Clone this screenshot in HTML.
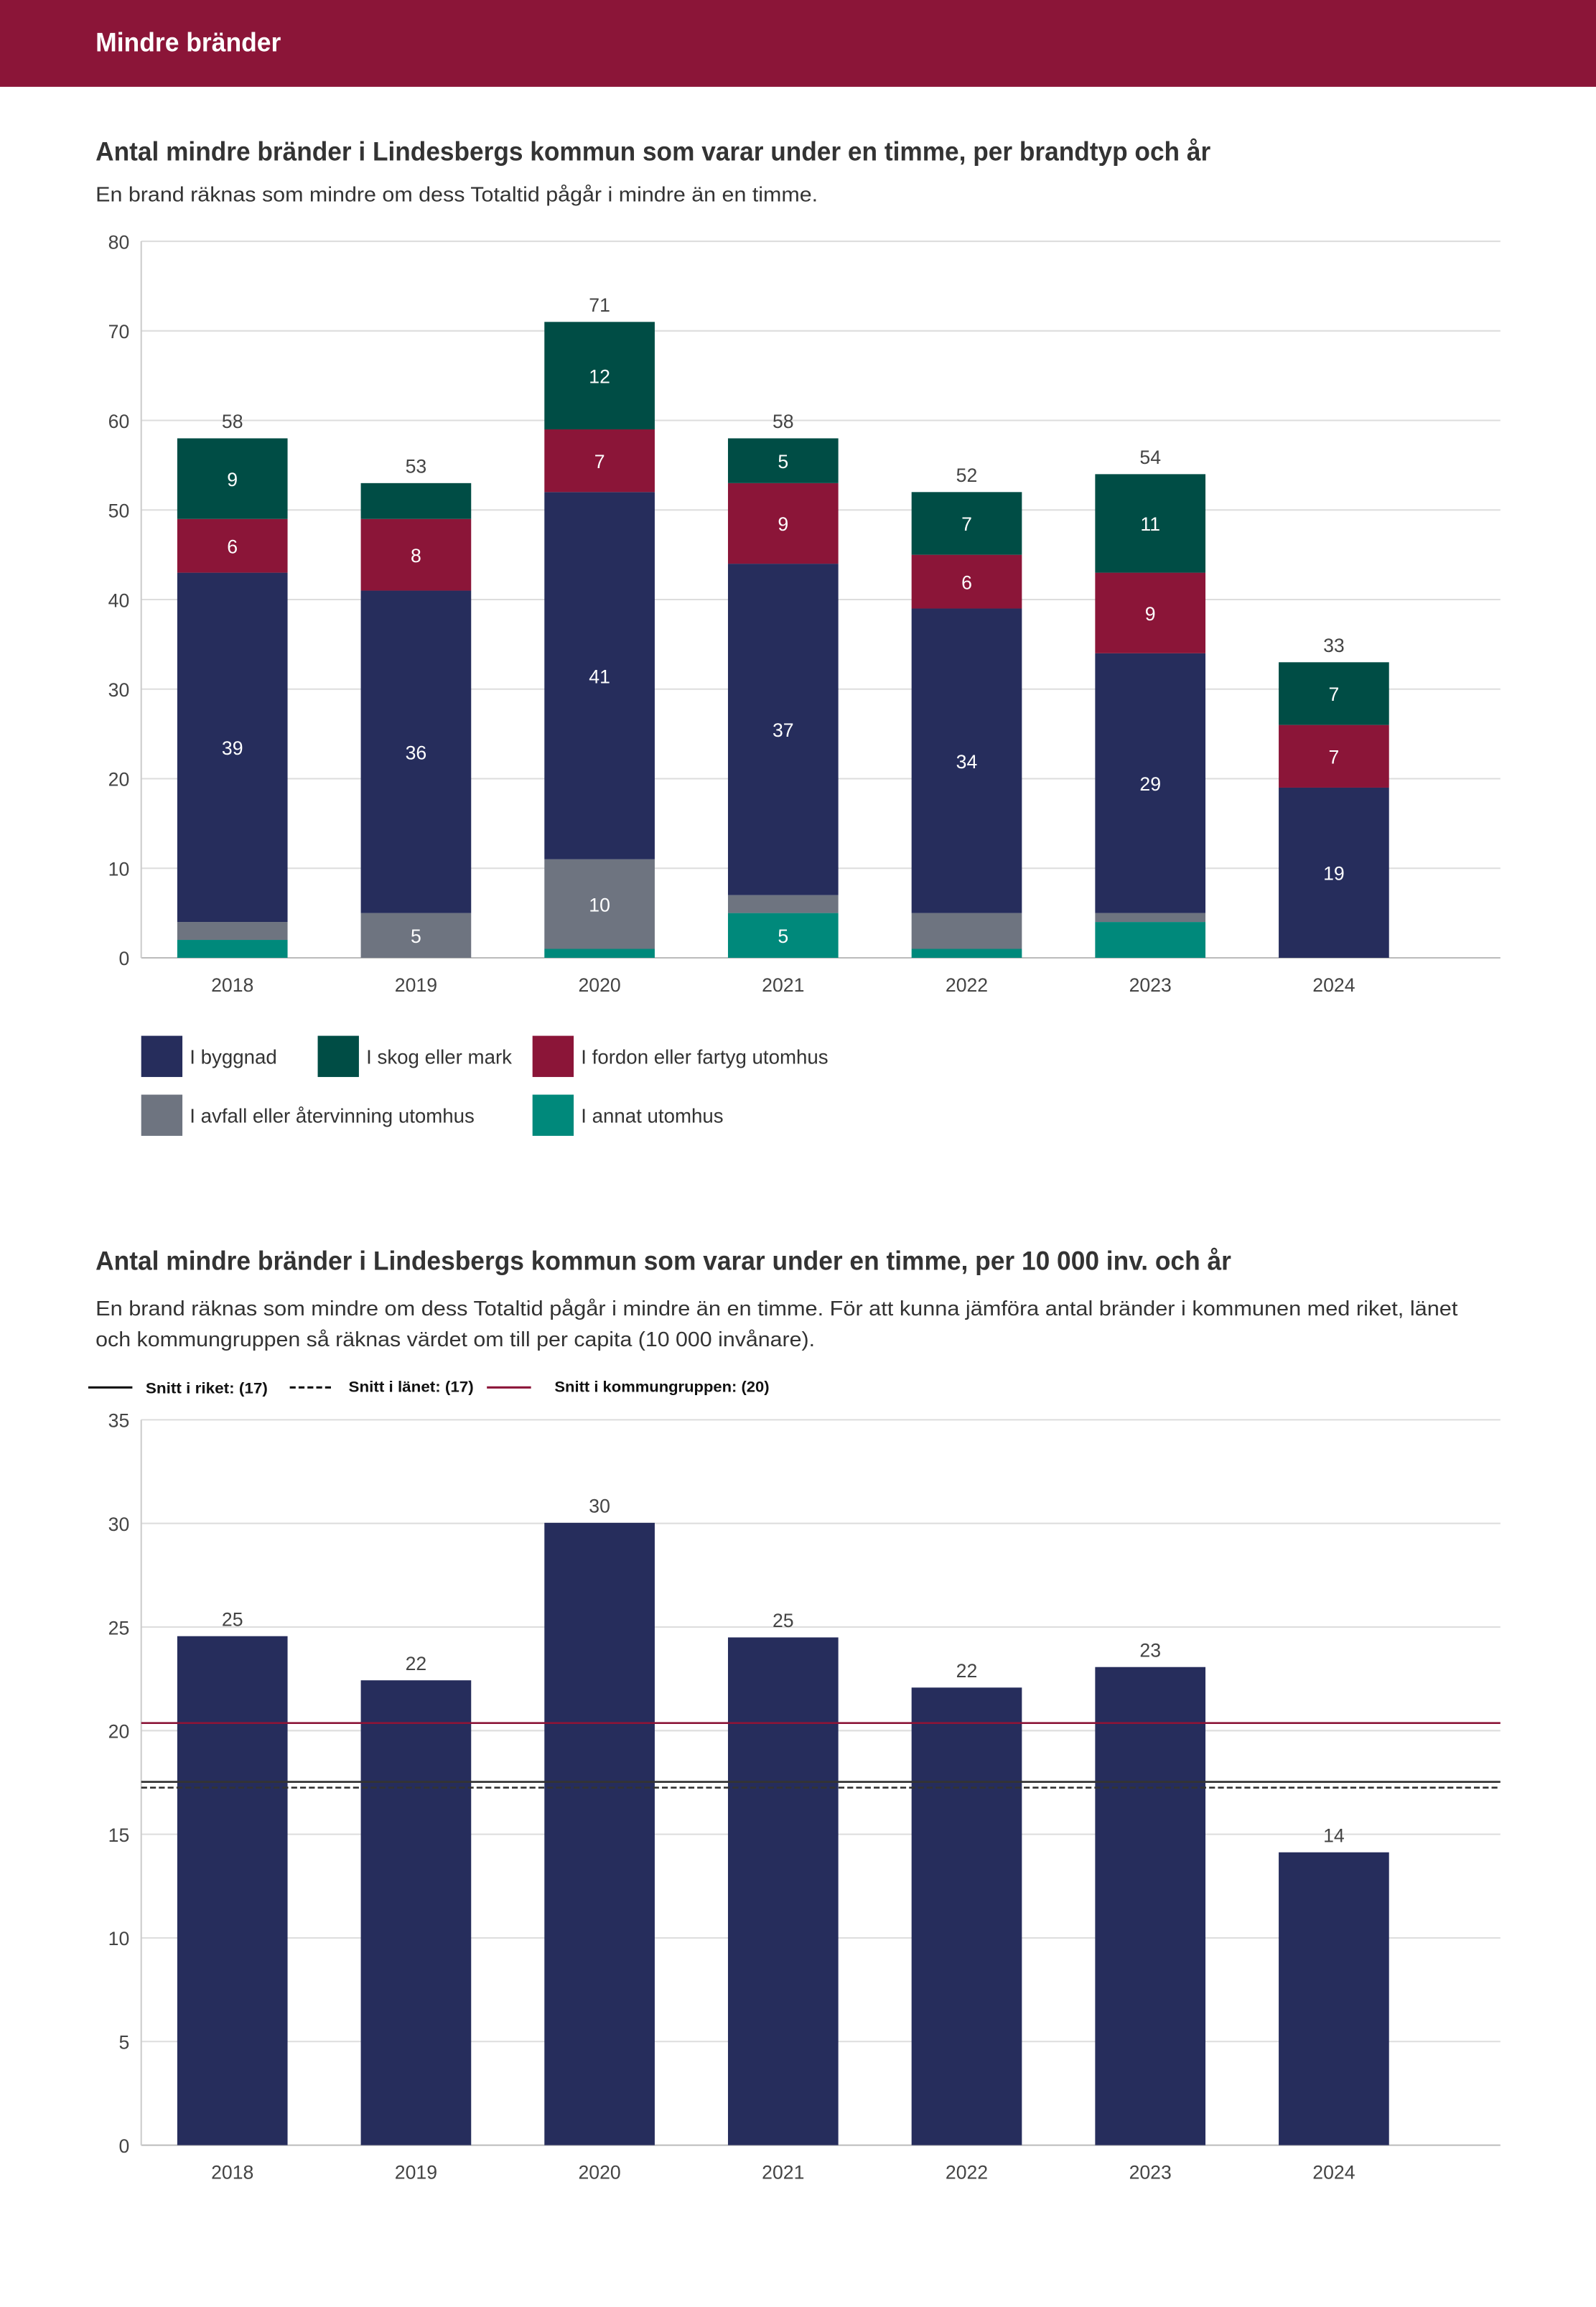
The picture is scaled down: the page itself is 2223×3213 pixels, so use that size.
<!DOCTYPE html>
<html><head><meta charset="utf-8"><style>
html,body{margin:0;padding:0;background:#fff;}
svg{display:block;font-family:"Liberation Sans",sans-serif;}
</style></head><body>
<svg id="root" width="2223" height="3213" viewBox="0 0 1085 1568" preserveAspectRatio="none" xmlns="http://www.w3.org/2000/svg">
<rect x="0" y="0" width="1085" height="59" fill="#8b1538"/>
<text x="65" y="35" fill="#fff" font-size="18" font-weight="bold" textLength="126" lengthAdjust="spacingAndGlyphs">Mindre bränder</text>

<text x="65" y="109" fill="#333" font-size="18" font-weight="bold" textLength="758" lengthAdjust="spacingAndGlyphs">Antal mindre bränder i Lindesbergs kommun som varar under en timme, per brandtyp och år</text>
<text x="65" y="137" fill="#333" font-size="14" textLength="491" lengthAdjust="spacingAndGlyphs">En brand räknas som mindre om dess Totaltid pågår i mindre än en timme.</text>
<g id="c1"></g>
<g id="leg1"></g>

<text x="65" y="863" fill="#333" font-size="18" font-weight="bold" textLength="772" lengthAdjust="spacingAndGlyphs">Antal mindre bränder i Lindesbergs kommun som varar under en timme, per 10 000 inv. och år</text>
<text x="65" y="894" fill="#333" font-size="14" textLength="926" lengthAdjust="spacingAndGlyphs">En brand räknas som mindre om dess Totaltid pågår i mindre än en timme. För att kunna jämföra antal bränder i kommunen med riket, länet</text>
<text x="65" y="915" fill="#333" font-size="14" textLength="489" lengthAdjust="spacingAndGlyphs">och kommungruppen så räknas värdet om till per capita (10 000 invånare).</text>
<g>
<line x1="60" y1="943" x2="90" y2="943" stroke="#111" stroke-width="1.5"/>
<text x="99" y="947" font-size="10.5" font-weight="bold" fill="#111" textLength="83" lengthAdjust="spacingAndGlyphs">Snitt i riket: (17)</text>
<line x1="197" y1="943" x2="227" y2="943" stroke="#111" stroke-width="1.5" stroke-dasharray="4,2"/>
<text x="237" y="946" font-size="10.5" font-weight="bold" fill="#111" textLength="85" lengthAdjust="spacingAndGlyphs">Snitt i länet: (17)</text>
<line x1="331" y1="943" x2="361" y2="943" stroke="#8b1538" stroke-width="1.5"/>
<text x="377" y="946" font-size="10.5" font-weight="bold" fill="#111" textLength="146" lengthAdjust="spacingAndGlyphs">Snitt i kommungruppen: (20)</text>
</g>
<g id="c2"></g>
</svg>
<script>
const years = ["2018","2019","2020","2021","2022","2023","2024"];
const annat = [2,0,1,5,1,4,0];
const avfall = [2,5,10,2,4,1,0];
const byggnad = [39,36,41,37,34,29,19];
const fordon = [6,8,7,9,6,9,7];
const skog = [9,4,12,5,7,11,7];
const c1Ticks = [0,10,20,30,40,50,60,70,80];
const perCapita = [24.56,22.43,30.03,24.5,22.08,23.07,14.13];
const perCapitaLabels = ["25","22","30","25","22","23","14"];
const c2Ticks = [0,5,10,15,20,25,30,35];
const snittRiket = 17.53;
const snittLanet = 17.25;
const snittKommungrupp = 20.37;

const NS="http://www.w3.org/2000/svg";
function mk(parent,tag,attrs,text){const e=document.createElementNS(NS,tag);for(const k in attrs)e.setAttribute(k,attrs[k]);if(text!==undefined)e.textContent=text;parent.appendChild(e);return e;}
const X0=96,X1=1020,BW=75;
function xc(i){return 158+i*124.8;}

// Chart 1
const c1=document.getElementById('c1');
const y1=v=>651-v*(487/80);
c1Ticks.forEach(t=>{
  const l=mk(c1,'line',{x1:X0,x2:X1,y1:y1(t),y2:y1(t),stroke:t===0?'#bbb':'#ddd','stroke-width':1});
  
  
  const tx=mk(c1,'text',{x:88,y:y1(t)+5,'text-anchor':'end','font-size':13,fill:'#444'},String(t));
  
  
});
const ax=mk(c1,'line',{x1:X0,x2:X0,y1:164,y2:651,stroke:'#ccc'});


const series=[["annat",annat,"#00897b"],["avfall",avfall,"#6e7480"],["byggnad",byggnad,"#262d5c"],["fordon",fordon,"#8b1538"],["skog",skog,"#004d45"]];
years.forEach((yr,i)=>{
  let base=0;
  series.forEach(([nm,arr,col])=>{
    const v=arr[i]; if(!v) return;
    const r=mk(c1,'rect',{x:xc(i)-BW/2,y:y1(base+v),width:BW,height:y1(base)-y1(base+v),fill:col});
    
    
    if(v>=5){
      const t=mk(c1,'text',{x:xc(i),y:(y1(base)+y1(base+v))/2+5,'text-anchor':'middle','font-size':13,fill:'#fff'},String(v));
      
      
    }
    base+=v;
  });
  const tt=mk(c1,'text',{x:xc(i),y:y1(base)-7,'text-anchor':'middle','font-size':13,fill:'#444'},String(base));
  
  
  const xl=mk(c1,'text',{x:xc(i),y:674,'text-anchor':'middle','font-size':13,fill:'#444'},yr);
  
  
});
const leg1=document.getElementById('leg1');
[["I byggnad","#262d5c",96,704],["I skog eller mark","#004d45",216,704],["I fordon eller fartyg utomhus","#8b1538",362,704],["I avfall eller återvinning utomhus","#6e7480",96,744],["I annat utomhus","#00897b",362,744]].forEach(([lab,col,x,y])=>{
  const s=mk(leg1,'rect',{x:x,y:y,width:28,height:28,fill:col});
  
  
  const t=mk(leg1,'text',{x:x+33,y:y+19,'font-size':13.5,fill:'#333'},lab);
  
  
});

// Chart 2
const c2=document.getElementById('c2');
const y2=v=>1458-v*(493/35);
c2Ticks.forEach(t=>{
  const l=mk(c2,'line',{x1:X0,x2:X1,y1:y2(t),y2:y2(t),stroke:t===0?'#bbb':'#ddd','stroke-width':1});
  
  
  const tx=mk(c2,'text',{x:88,y:y2(t)+5,'text-anchor':'end','font-size':13,fill:'#444'},String(t));
  
  
});
const ax2=mk(c2,'line',{x1:X0,x2:X0,y1:965,y2:1458,stroke:'#ccc'});


years.forEach((yr,i)=>{
  const v=perCapita[i];
  const r=mk(c2,'rect',{x:xc(i)-BW/2,y:y2(v),width:BW,height:y2(0)-y2(v),fill:'#262d5c'});
  
  
  const t=mk(c2,'text',{x:xc(i),y:y2(v)-7,'text-anchor':'middle','font-size':13,fill:'#444'},perCapitaLabels[i]);
  
  
  const xl=mk(c2,'text',{x:xc(i),y:1481,'text-anchor':'middle','font-size':13,fill:'#444'},yr);
  
  
});
const lk=mk(c2,'line',{x1:X0,x2:X1,y1:y2(snittKommungrupp),y2:y2(snittKommungrupp),stroke:'#8b1538','stroke-width':1.3});


const lr=mk(c2,'line',{x1:X0,x2:X1,y1:y2(snittRiket),y2:y2(snittRiket),stroke:'#333','stroke-width':1.3});


const ll=mk(c2,'line',{x1:X0,x2:X1,y1:y2(snittLanet),y2:y2(snittLanet),stroke:'#333','stroke-width':1.3,'stroke-dasharray':'4,2'});


</script>
</body></html>
